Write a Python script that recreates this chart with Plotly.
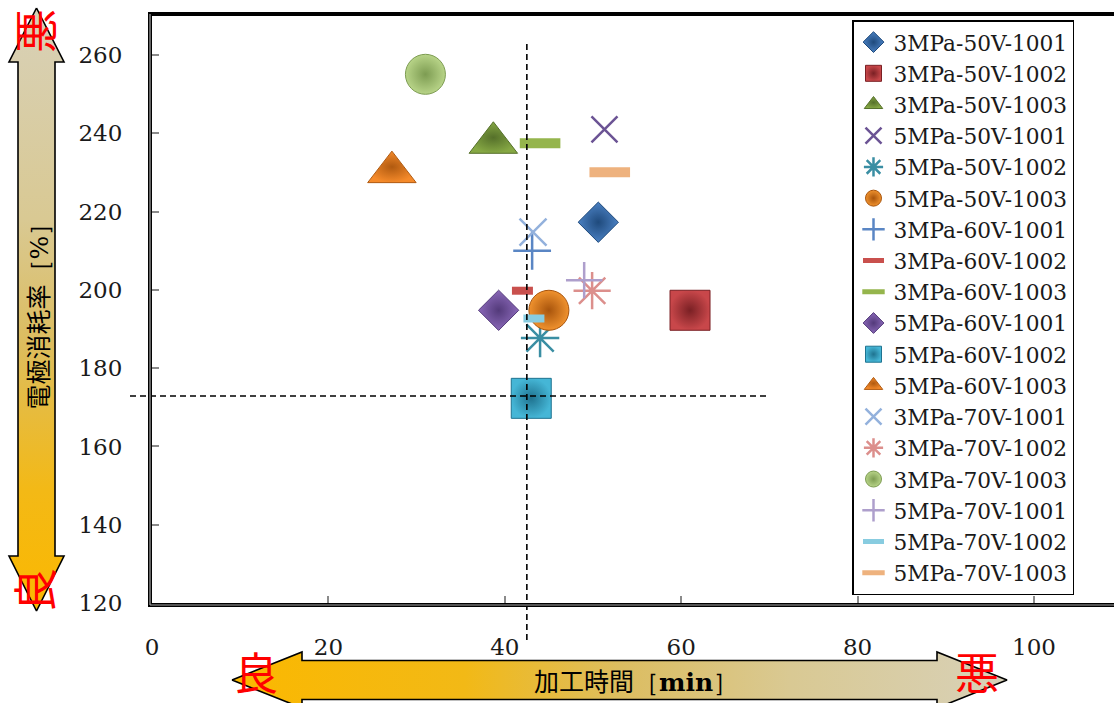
import plotly.graph_objects as go

# ---------------- data ----------------
names = [
    "3MPa-50V-1001", "3MPa-50V-1002", "3MPa-50V-1003",
    "5MPa-50V-1001", "5MPa-50V-1002", "5MPa-50V-1003",
    "3MPa-60V-1001", "3MPa-60V-1002", "3MPa-60V-1003",
    "5MPa-60V-1001", "5MPa-60V-1002", "5MPa-60V-1003",
    "3MPa-70V-1001", "3MPa-70V-1002", "3MPa-70V-1003",
    "5MPa-70V-1001", "5MPa-70V-1002", "5MPa-70V-1003",
]
time_min = [50.6, 61.0, 38.7, 51.3, 44.0, 45.0, 43.1, 42.0, 44.0,
            39.3, 43.0, 27.2, 43.2, 49.9, 31.0, 49.0, 43.3, 51.9]
wear_pct = [217.3, 194.8, 237.6, 241.0, 187.7, 194.8, 210.0, 199.8, 237.5,
            194.8, 172.3, 230.1, 214.8, 199.8, 255.1, 202.5, 192.7, 230.1]

ref_time = 42.5      # vertical dashed reference
ref_wear = 172.9     # horizontal dashed reference

x_ticks = [0, 20, 40, 60, 80, 100]
y_ticks = [120, 140, 160, 180, 200, 220, 240, 260]

# ---------------- styles ----------------
symbols = ["diamond", "square", "triangle-up",
           "x-thin-open", "asterisk-open", "circle",
           "cross-thin-open", "line-ew-open", "line-ew-open",
           "diamond", "square", "triangle-up",
           "x-thin-open", "asterisk-open", "circle",
           "cross-thin-open", "line-ew-open", "line-ew-open"]
colors = ["#4a80c2", "#c8474a", "#86a844",
          "#6b5394", "#3a8ea3", "#f0922e",
          "#5a86c4", "#c9504d", "#95b54c",
          "#8a68b8", "#45b6d6", "#f58a2a",
          "#93b1dc", "#dc8f8c", "#b8d488",
          "#ae9fcc", "#88cce0", "#eeb27e"]
edge = ["#1f4a7c", "#7a2024", "#55702a",
        None, None, "#a8540c",
        None, None, None,
        "#533a7a", "#1f7390", "#b05a10",
        None, None, "#7d9c52",
        None, None, None]
sizes = [31, 40, 42, 26, 32, 40, 27, 15, 29, 31, 40, 42, 27, 31, 40, 26, 15, 29]
lwidths = [1, 1, 1, 2.5, 2.5, 1, 2.5, 8, 10, 1, 1, 1, 2.5, 2.5, 1, 2.5, 8, 10]

W, H = 1114, 703
L, R, T, B = 152, 1114, 16, 603

fig = go.Figure()

for i, n in enumerate(names):
    mk = dict(symbol=symbols[i], size=sizes[i], color=colors[i])
    if edge[i] is not None:
        mk["line"] = dict(color=edge[i], width=lwidths[i])
        mk["gradient"] = dict(type="radial", color=edge[i])
    else:
        mk["line"] = dict(color=colors[i], width=lwidths[i])
    fig.add_trace(go.Scatter(x=[time_min[i]], y=[wear_pct[i]], mode="markers",
                             name=n, marker=mk, xaxis="x", yaxis="y"))

# ---------------- gradient arrows (pixel overlay subplot) ----------------
v_arrow_x = [36.5, 64, 55, 55, 64, 36.5, 9, 18, 18, 9, 36.5]
v_arrow_y = [8, 62, 62, 556, 556, 611, 556, 556, 62, 62, 8]
h_arrow_x = [232, 302, 302, 937, 937, 1007, 937, 937, 302, 302, 232]
h_arrow_y = [680, 652, 660.5, 660.5, 652, 680, 708, 699.5, 699.5, 708, 680]

fig.add_trace(go.Scatter(
    x=v_arrow_x, y=v_arrow_y, xaxis="x2", yaxis="y2", mode="lines",
    fill="toself", line=dict(color="black", width=1.6),
    fillgradient=dict(type="vertical", start=8, stop=611,
                      colorscale=[[0, "#d8d1b8"], [0.35, "#d9c993"],
                                  [0.55, "#dcbd60"], [0.8, "#f3b916"],
                                  [1, "#fbb800"]]),
    showlegend=False, hoverinfo="skip"))
fig.add_trace(go.Scatter(
    x=h_arrow_x, y=h_arrow_y, xaxis="x2", yaxis="y2", mode="lines",
    fill="toself", line=dict(color="black", width=1.6),
    fillgradient=dict(type="horizontal", start=232, stop=1007,
                      colorscale=[[0, "#fbb800"], [0.3, "#f2b916"],
                                  [0.5, "#dcbd60"], [0.72, "#d9c993"],
                                  [1, "#d8d1b8"]]),
    showlegend=False, hoverinfo="skip"))

cjk = "Noto Sans CJK JP"
ann = [
    dict(x=36.5, y=310, text='電極消耗率<span style="font-family:DejaVu Serif">［%］</span>',
         textangle=-90, font=dict(family=cjk, size=25, color="black")),
    dict(x=636, y=680, text='加工時間<span style="font-family:DejaVu Serif">［<b>min</b>］</span>',
         font=dict(family=cjk, size=25, color="black")),
    dict(x=34, y=31, text="悪", textangle=-90, font=dict(family=cjk, size=44, color="#ff0000")),
    dict(x=33, y=590, text="良", textangle=-90, font=dict(family=cjk, size=44, color="#ff0000")),
    dict(x=256, y=671, text="良", font=dict(family=cjk, size=44, color="#ff0000")),
    dict(x=977, y=671, text="悪", font=dict(family=cjk, size=44, color="#ff0000")),
]
for a in ann:
    a.update(xref="x2", yref="y2", showarrow=False, xanchor="center", yanchor="middle")

# ---------------- reference dashed lines & frame detail ----------------
shapes = [
    dict(type="line", xref="x", yref="paper", x0=ref_time, x1=ref_time,
         y0=1 - 640 / H, y1=1 - 40 / H,
         line=dict(color="black", width=1.6, dash="6px,4px"), layer="above"),
    dict(type="line", xref="paper", yref="y", x0=130 / W, x1=770 / W,
         y0=ref_wear, y1=ref_wear,
         line=dict(color="black", width=1.6, dash="6px,4px"), layer="above"),
    # grey inner stroke of the double frame line
    dict(type="line", xref="paper", yref="paper", x0=(L - 2) / W, x1=(L - 2) / W,
         y0=1 - (B + 2) / H, y1=1 - (T - 2) / H,
         line=dict(color="#a8a8a8", width=1.2), layer="above"),
    dict(type="line", xref="paper", yref="paper", x0=(L - 2) / W, x1=1,
         y0=1 - (B + 2) / H, y1=1 - (B + 2) / H,
         line=dict(color="#a8a8a8", width=1.2), layer="above"),
]

tickfont = dict(family="DejaVu Serif", size=23, color="#1a1a1a")

fig.update_layout(
    width=W, height=H,
    margin=dict(l=0, r=0, t=0, b=0, autoexpand=False),
    paper_bgcolor="white", plot_bgcolor="rgba(0,0,0,0)",
    showlegend=True,
    legend=dict(x=852 / W, y=1 - 20 / H, xanchor="left", yanchor="top",
                bgcolor="white", bordercolor="black", borderwidth=1.5,
                font=dict(family="DejaVu Serif", size=21.7, color="#1a1a1a"),
                traceorder="normal", tracegroupgap=0),
    xaxis=dict(domain=[L / W, 1], range=[0, (R - L) / 8.82], anchor="y",
               tickvals=x_ticks, ticks="inside", ticklen=7, tickwidth=1.5,
               tickcolor="#8a8a8a", showline=True, linecolor="black",
               linewidth=4, mirror=True, showgrid=False, zeroline=False,
               tickfont=tickfont, ticklabelstandoff=20, automargin=False),
    yaxis=dict(domain=[1 - B / H, 1 - T / H], range=[120, 270], anchor="x",
               tickvals=y_ticks, ticks="inside", ticklen=7, tickwidth=1.5,
               tickcolor="#8a8a8a", showline=True, linecolor="black",
               linewidth=4, mirror=False, showgrid=False, zeroline=False,
               tickfont=tickfont, ticklabelstandoff=21, automargin=False),
    xaxis2=dict(domain=[0, 1], range=[0, W], anchor="y2", visible=False,
                fixedrange=True, automargin=False),
    yaxis2=dict(domain=[0, 1], range=[H, 0], anchor="x2", visible=False,
                fixedrange=True, automargin=False),
    annotations=ann,
    shapes=shapes,
)

fig.write_html("out.html")
